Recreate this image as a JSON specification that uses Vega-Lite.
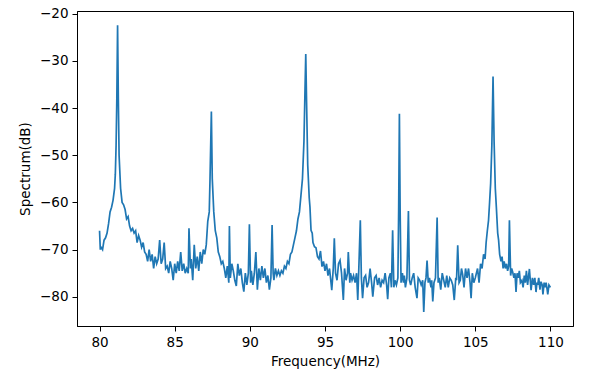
{
  "$schema": "https://vega.github.io/schema/vega-lite/v6.json",
  "autosize": {"type": "none"},
  "padding": {"left": 77, "top": 11, "right": 22, "bottom": 44},
  "width": 496,
  "height": 315,
  "background": "white",
  "config": {
    "view": {"stroke": "black", "strokeWidth": 1},
    "font": "DejaVu Sans",
    "axis": {
      "grid": false,
      "domainColor": "black",
      "tickColor": "black",
      "tickSize": 5,
      "labelFontSize": 13.5,
      "titleFontSize": 13.5,
      "labelColor": "black",
      "titleColor": "black",
      "titleFontWeight": "normal",
      "labelFont": "DejaVu Sans",
      "titleFont": "DejaVu Sans",
      "labelPadding": 4
    }
  },
  "data": {"values": [
    {"f":80.0,"s":-66},{"f":80.05,"s":-70},{"f":80.1,"s":-69.5},{"f":80.2,"s":-70},{"f":80.3,"s":-68},{"f":80.4,"s":-67.5},{"f":80.5,"s":-66.5},{"f":80.6,"s":-64.5},{"f":80.7,"s":-62},{"f":80.8,"s":-61},{"f":80.9,"s":-59.5},{"f":81.0,"s":-57},{"f":81.05,"s":-54},{"f":81.1,"s":-48},{"f":81.15,"s":-38},{"f":81.2,"s":-22.4},{"f":81.25,"s":-38},{"f":81.3,"s":-50},{"f":81.4,"s":-57},{"f":81.5,"s":-60},{"f":81.6,"s":-60.5},{"f":81.7,"s":-61.5},{"f":81.8,"s":-63.5},{"f":81.9,"s":-63},{"f":82.0,"s":-65},{"f":82.1,"s":-66},{"f":82.2,"s":-65.5},{"f":82.3,"s":-66.5},{"f":82.4,"s":-66},{"f":82.5,"s":-68.5},{"f":82.6,"s":-67},{"f":82.7,"s":-68},{"f":82.8,"s":-69.5},{"f":82.9,"s":-68.5},{"f":83.0,"s":-70.5},{"f":83.1,"s":-71},{"f":83.2,"s":-72.5},{"f":83.3,"s":-70},{"f":83.4,"s":-72.5},{"f":83.5,"s":-71},{"f":83.6,"s":-74},{"f":83.7,"s":-71.5},{"f":83.8,"s":-73},{"f":83.9,"s":-72},{"f":84.0,"s":-68},{"f":84.1,"s":-73},{"f":84.2,"s":-72},{"f":84.3,"s":-68.5},{"f":84.4,"s":-74},{"f":84.5,"s":-73.5},{"f":84.6,"s":-75},{"f":84.7,"s":-72.5},{"f":84.8,"s":-74},{"f":84.9,"s":-76.5},{"f":85.0,"s":-73},{"f":85.1,"s":-75},{"f":85.2,"s":-72.5},{"f":85.3,"s":-74.5},{"f":85.4,"s":-70.5},{"f":85.5,"s":-74.5},{"f":85.6,"s":-73},{"f":85.7,"s":-75},{"f":85.8,"s":-74},{"f":85.9,"s":-75},{"f":85.95,"s":-65.5},{"f":86.05,"s":-74},{"f":86.1,"s":-72},{"f":86.2,"s":-76.5},{"f":86.3,"s":-69},{"f":86.4,"s":-74},{"f":86.5,"s":-71.5},{"f":86.6,"s":-74.5},{"f":86.7,"s":-70.5},{"f":86.8,"s":-73},{"f":86.9,"s":-70},{"f":87.0,"s":-71},{"f":87.1,"s":-69},{"f":87.2,"s":-64},{"f":87.3,"s":-62},{"f":87.35,"s":-55},{"f":87.44,"s":-40.7},{"f":87.5,"s":-55},{"f":87.6,"s":-62},{"f":87.7,"s":-66},{"f":87.8,"s":-67.5},{"f":87.9,"s":-70.5},{"f":88.0,"s":-71.5},{"f":88.1,"s":-73},{"f":88.2,"s":-72.5},{"f":88.3,"s":-74},{"f":88.4,"s":-76},{"f":88.5,"s":-73.5},{"f":88.6,"s":-77},{"f":88.64,"s":-65},{"f":88.7,"s":-76},{"f":88.8,"s":-73},{"f":88.9,"s":-74.5},{"f":89.0,"s":-76.5},{"f":89.1,"s":-77.7},{"f":89.2,"s":-73},{"f":89.3,"s":-75.5},{"f":89.4,"s":-74},{"f":89.5,"s":-77},{"f":89.6,"s":-78.9},{"f":89.7,"s":-75},{"f":89.8,"s":-77.5},{"f":89.9,"s":-75},{"f":89.97,"s":-64.6},{"f":90.05,"s":-77},{"f":90.1,"s":-74.5},{"f":90.2,"s":-77.5},{"f":90.3,"s":-75},{"f":90.4,"s":-70.5},{"f":90.5,"s":-78.5},{"f":90.6,"s":-74},{"f":90.7,"s":-76.5},{"f":90.8,"s":-73.5},{"f":90.9,"s":-76},{"f":91.0,"s":-74},{"f":91.1,"s":-77},{"f":91.2,"s":-75.5},{"f":91.3,"s":-78.5},{"f":91.4,"s":-76},{"f":91.48,"s":-64.8},{"f":91.55,"s":-75},{"f":91.6,"s":-76.5},{"f":91.7,"s":-74},{"f":91.8,"s":-75.5},{"f":91.9,"s":-74.5},{"f":92.0,"s":-75.5},{"f":92.1,"s":-74.5},{"f":92.2,"s":-75},{"f":92.3,"s":-73.5},{"f":92.4,"s":-74},{"f":92.5,"s":-72.5},{"f":92.6,"s":-73},{"f":92.7,"s":-71},{"f":92.8,"s":-70.5},{"f":92.9,"s":-69},{"f":93.0,"s":-67.5},{"f":93.1,"s":-66},{"f":93.2,"s":-63.5},{"f":93.3,"s":-62},{"f":93.4,"s":-58.5},{"f":93.5,"s":-55},{"f":93.6,"s":-47},{"f":93.67,"s":-36},{"f":93.72,"s":-28.5},{"f":93.77,"s":-38},{"f":93.85,"s":-52},{"f":93.95,"s":-59},{"f":94.0,"s":-61},{"f":94.07,"s":-65.9},{"f":94.15,"s":-66.5},{"f":94.2,"s":-68.5},{"f":94.3,"s":-69.4},{"f":94.4,"s":-69.6},{"f":94.5,"s":-71.5},{"f":94.6,"s":-72},{"f":94.7,"s":-70.3},{"f":94.8,"s":-73.6},{"f":94.9,"s":-72.5},{"f":95.0,"s":-74.5},{"f":95.1,"s":-73},{"f":95.2,"s":-75.5},{"f":95.3,"s":-74},{"f":95.4,"s":-77},{"f":95.45,"s":-78.6},{"f":95.55,"s":-74},{"f":95.62,"s":-67.6},{"f":95.7,"s":-75},{"f":95.8,"s":-76.5},{"f":95.9,"s":-73},{"f":96.0,"s":-72.3},{"f":96.1,"s":-75},{"f":96.22,"s":-80.7},{"f":96.3,"s":-74},{"f":96.4,"s":-76.5},{"f":96.5,"s":-75},{"f":96.55,"s":-70.5},{"f":96.65,"s":-77},{"f":96.7,"s":-75},{"f":96.8,"s":-76.5},{"f":96.9,"s":-75.5},{"f":97.0,"s":-77},{"f":97.1,"s":-75},{"f":97.18,"s":-80.7},{"f":97.25,"s":-74},{"f":97.35,"s":-63.8},{"f":97.42,"s":-76},{"f":97.5,"s":-80.3},{"f":97.6,"s":-76},{"f":97.7,"s":-75.5},{"f":97.8,"s":-78},{"f":97.9,"s":-77},{"f":98.0,"s":-74},{"f":98.1,"s":-77},{"f":98.18,"s":-80},{"f":98.3,"s":-76},{"f":98.4,"s":-75.5},{"f":98.5,"s":-77.5},{"f":98.6,"s":-76},{"f":98.7,"s":-78},{"f":98.8,"s":-76.5},{"f":98.9,"s":-77},{"f":99.0,"s":-75},{"f":99.1,"s":-77.5},{"f":99.17,"s":-80.5},{"f":99.25,"s":-76},{"f":99.35,"s":-75},{"f":99.42,"s":-78},{"f":99.5,"s":-65.9},{"f":99.58,"s":-78},{"f":99.65,"s":-76.5},{"f":99.75,"s":-77.5},{"f":99.85,"s":-76},{"f":99.9,"s":-62},{"f":99.95,"s":-41.2},{"f":100.0,"s":-62},{"f":100.06,"s":-77},{"f":100.15,"s":-75},{"f":100.22,"s":-77},{"f":100.28,"s":-75.5},{"f":100.35,"s":-78},{"f":100.45,"s":-76},{"f":100.55,"s":-61.8},{"f":100.62,"s":-76.5},{"f":100.7,"s":-77.5},{"f":100.8,"s":-76},{"f":100.9,"s":-75},{"f":101.0,"s":-78},{"f":101.12,"s":-80.3},{"f":101.2,"s":-76},{"f":101.3,"s":-76.5},{"f":101.4,"s":-77.5},{"f":101.5,"s":-76.5},{"f":101.57,"s":-83.2},{"f":101.65,"s":-77},{"f":101.72,"s":-76},{"f":101.79,"s":-72.3},{"f":101.87,"s":-77},{"f":101.95,"s":-76},{"f":102.05,"s":-78},{"f":102.1,"s":-76.5},{"f":102.17,"s":-81},{"f":102.25,"s":-77},{"f":102.35,"s":-76},{"f":102.46,"s":-63.2},{"f":102.53,"s":-77},{"f":102.6,"s":-76},{"f":102.7,"s":-78.5},{"f":102.8,"s":-75},{"f":102.9,"s":-76.5},{"f":103.0,"s":-78},{"f":103.1,"s":-75.5},{"f":103.2,"s":-78},{"f":103.3,"s":-76},{"f":103.4,"s":-76.5},{"f":103.5,"s":-77.5},{"f":103.6,"s":-80.7},{"f":103.7,"s":-76},{"f":103.75,"s":-76.5},{"f":103.83,"s":-69.1},{"f":103.92,"s":-77},{"f":104.0,"s":-76.5},{"f":104.08,"s":-74},{"f":104.16,"s":-75.3},{"f":104.25,"s":-78},{"f":104.35,"s":-74},{"f":104.45,"s":-76},{"f":104.55,"s":-74},{"f":104.65,"s":-77},{"f":104.72,"s":-80.3},{"f":104.8,"s":-75},{"f":104.9,"s":-77},{"f":105.0,"s":-76},{"f":105.05,"s":-75.3},{"f":105.15,"s":-74},{"f":105.25,"s":-77},{"f":105.35,"s":-73},{"f":105.45,"s":-74},{"f":105.55,"s":-71},{"f":105.65,"s":-72},{"f":105.72,"s":-68.5},{"f":105.8,"s":-66},{"f":105.88,"s":-63.8},{"f":105.95,"s":-60},{"f":106.02,"s":-56},{"f":106.1,"s":-48},{"f":106.18,"s":-33.3},{"f":106.25,"s":-47},{"f":106.33,"s":-57},{"f":106.4,"s":-61},{"f":106.49,"s":-66.5},{"f":106.55,"s":-68},{"f":106.62,"s":-71},{"f":106.71,"s":-72.5},{"f":106.78,"s":-71.5},{"f":106.85,"s":-74},{"f":106.92,"s":-72.5},{"f":107.0,"s":-74},{"f":107.08,"s":-73},{"f":107.15,"s":-74.5},{"f":107.22,"s":-73.5},{"f":107.27,"s":-63.8},{"f":107.35,"s":-75.5},{"f":107.42,"s":-74},{"f":107.49,"s":-74.8},{"f":107.57,"s":-76},{"f":107.64,"s":-75},{"f":107.71,"s":-79},{"f":107.78,"s":-75},{"f":107.85,"s":-76},{"f":107.93,"s":-74.5},{"f":108.0,"s":-77},{"f":108.1,"s":-76.5},{"f":108.18,"s":-78},{"f":108.26,"s":-75.5},{"f":108.33,"s":-77},{"f":108.4,"s":-74.5},{"f":108.48,"s":-77.5},{"f":108.55,"s":-75.5},{"f":108.6,"s":-74.1},{"f":108.71,"s":-78.6},{"f":108.8,"s":-76},{"f":108.88,"s":-77.5},{"f":108.96,"s":-76},{"f":109.04,"s":-79},{"f":109.1,"s":-77},{"f":109.15,"s":-77.5},{"f":109.22,"s":-76},{"f":109.3,"s":-78.5},{"f":109.37,"s":-76.8},{"f":109.45,"s":-77.5},{"f":109.5,"s":-79.5},{"f":109.58,"s":-77},{"f":109.65,"s":-78},{"f":109.71,"s":-77},{"f":109.78,"s":-78.5},{"f":109.82,"s":-79.5},{"f":109.9,"s":-77.5},{"f":110.0,"s":-78}
  ]},
  "mark": {"type": "line", "color": "#1f77b4", "strokeWidth": 1.7, "clip": true},
  "encoding": {
    "x": {
      "field": "f", "type": "quantitative",
      "title": "Frequency(MHz)",
      "scale": {"domain": [78.5, 111.5], "nice": false, "zero": false},
      "axis": {"values": [80, 85, 90, 95, 100, 105, 110], "format": "d", "titlePadding": 6}
    },
    "y": {
      "field": "s", "type": "quantitative",
      "title": "Spectrum(dB)",
      "scale": {"domain": [-86.2, -19.4], "nice": false, "zero": false},
      "axis": {"values": [-80, -70, -60, -50, -40, -30, -20], "format": "d", "labelExpr": "replace(datum.label, '-', '−')", "titlePadding": 7}
    }
  }
}
